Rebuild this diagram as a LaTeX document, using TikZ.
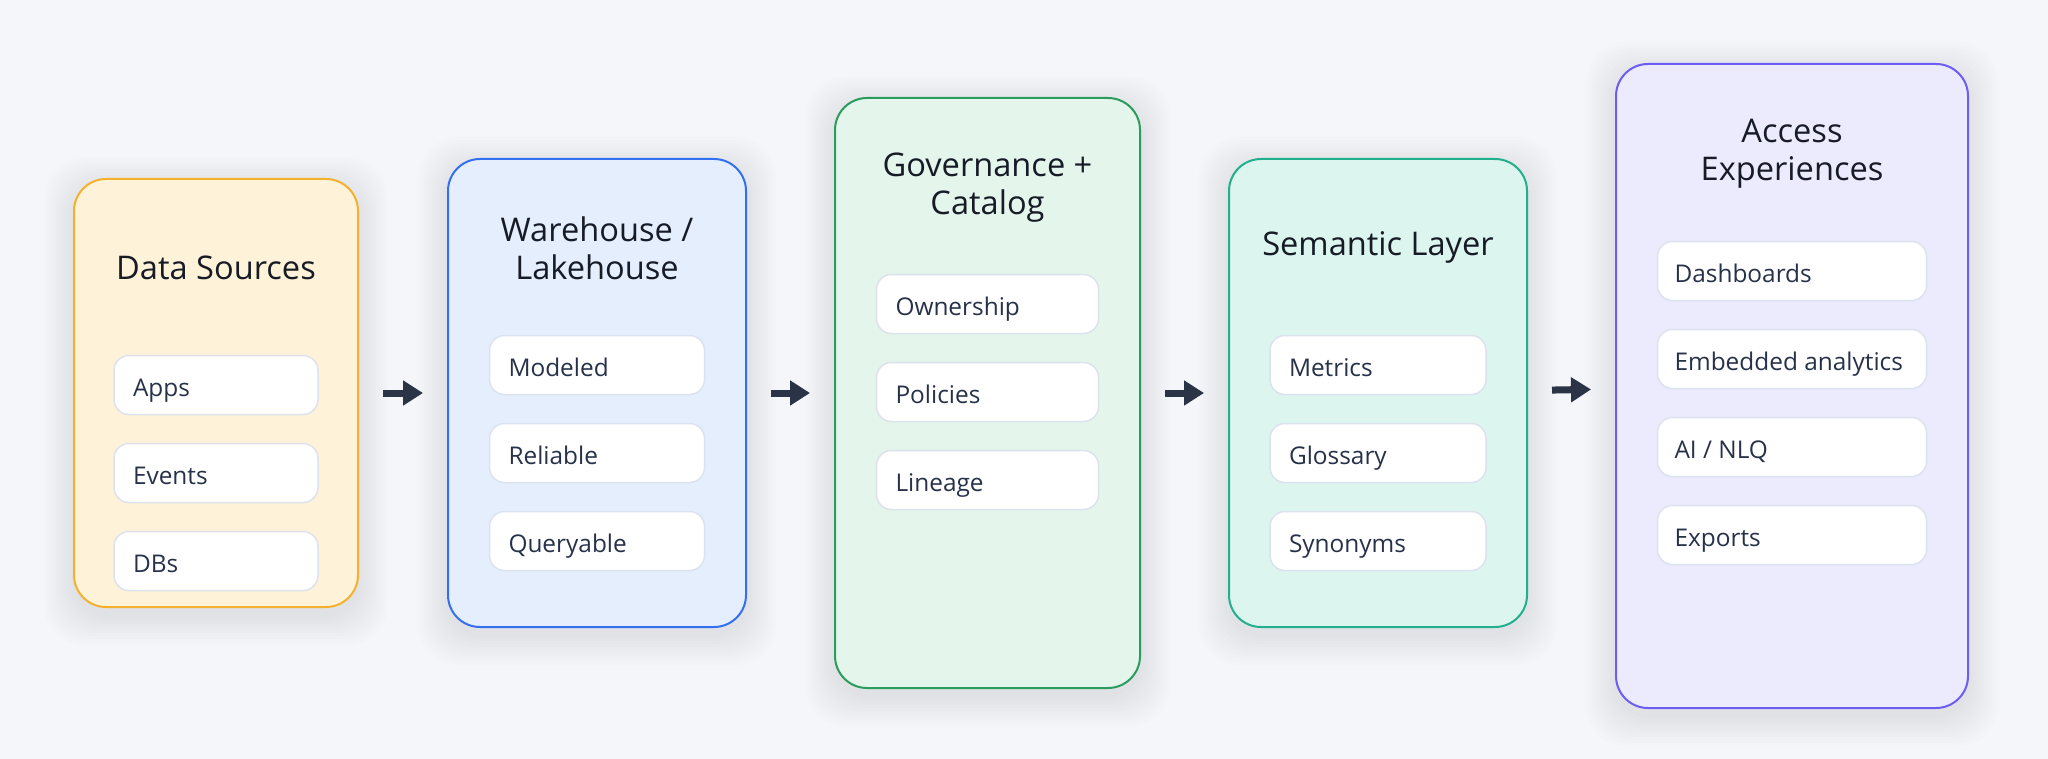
\documentclass[tikz,border=0pt]{standalone}
\usepackage{fontspec}
\setmainfont{Open Sans}
\usetikzlibrary{positioning,arrows.meta,backgrounds}

\definecolor{bgc}{HTML}{F4F6FA}
\definecolor{titlec}{HTML}{161B26}
\definecolor{itemtext}{HTML}{27324A}
\definecolor{itemline}{HTML}{DCE2EE}
\definecolor{arrowc}{HTML}{2B3446}
\definecolor{dsfill}{HTML}{FEF2D8}
\definecolor{dsline}{HTML}{F4B12E}
\definecolor{whfill}{HTML}{E5EEFD}
\definecolor{whline}{HTML}{3470EE}
\definecolor{gcfill}{HTML}{E4F5EB}
\definecolor{gcline}{HTML}{2A9D5C}
\definecolor{slfill}{HTML}{DCF5EF}
\definecolor{slline}{HTML}{22B08C}
\definecolor{aefill}{HTML}{ECEAFD}
\definecolor{aeline}{HTML}{6D5DF2}

\tikzset{
  panel/.style={draw, line width=1pt, rounded corners=16pt, outer sep=0pt},
  ptitle/.style={font=\fontsize{16.3}{19}\selectfont, text=titlec, align=center},
  item/.style={draw=itemline, fill=white, line width=0.75pt, rounded corners=7.5pt,
    minimum height=29.5pt, inner xsep=9.5pt, outer sep=0pt, align=flush left,
    text height=14.5pt, text depth=3pt,
    font=\fontsize{12.2}{14}\selectfont, text=itemtext},
  flow/.style={draw=arrowc, line width=3.5pt, -{Triangle[width=12pt,length=10pt]},
    shorten <=12.5pt, shorten >=12.5pt}
}

\begin{document}
\begin{tikzpicture}[x=0.5pt, y=-0.5pt]
\useasboundingbox (0,0) rectangle (2048,759);

\node [panel, draw=dsline, fill=dsfill, minimum width=142pt, minimum height=214pt] (ds) at (216,393) {};
\node [panel, draw=whline, fill=whfill, minimum width=149pt, minimum height=234pt] (wh) at (597,393) {};
\node [panel, draw=gcline, fill=gcfill, minimum width=152.5pt, minimum height=295pt] (gc) at (987.5,393) {};
\node [panel, draw=slline, fill=slfill, minimum width=149pt, minimum height=234pt] (sl) at (1378,393) {};
\node [panel, draw=aeline, fill=aefill, minimum width=176pt, minimum height=322pt] (ae) at (1792,386) {};

\node [ptitle] (dst) at ([yshift=-44.5pt]ds.north) {Data Sources};
\node [ptitle] (wht) at ([yshift=-44.5pt]wh.north) {Warehouse /\\Lakehouse};
\node [ptitle] (gct) at ([yshift=-45pt]gc.north) {Governance +\\Catalog};
\node [ptitle] (slt) at ([yshift=-44pt]sl.north) {Semantic Layer};
\node [ptitle] (aet) at ([yshift=-45pt]ae.north) {Access\\Experiences};

\node [item, text width=83pt] (ds1) at ([yshift=-103pt]ds.north) {Apps};
\node [item, text width=83pt, below=14.5pt of ds1] (ds2) {Events};
\node [item, text width=83pt, below=14.5pt of ds2] (ds3) {DBs};

\node [item, text width=88.5pt] (wh1) at ([yshift=-103pt]wh.north) {Modeled};
\node [item, text width=88.5pt, below=14.5pt of wh1] (wh2) {Reliable};
\node [item, text width=88.5pt, below=14.5pt of wh2] (wh3) {Queryable};

\node [item, text width=92pt] (gc1) at ([yshift=-103pt]gc.north) {Ownership};
\node [item, text width=92pt, below=14.5pt of gc1] (gc2) {Policies};
\node [item, text width=92pt, below=14.5pt of gc2] (gc3) {Lineage};

\node [item, text width=89pt] (sl1) at ([yshift=-103pt]sl.north) {Metrics};
\node [item, text width=89pt, below=14.5pt of sl1] (sl2) {Glossary};
\node [item, text width=89pt, below=14.5pt of sl2] (sl3) {Synonyms};

\node [item, inner xsep=8.5pt, text width=117.5pt] (ae1) at ([yshift=-103.5pt]ae.north) {Dashboards};
\node [item, inner xsep=8.5pt, text width=117.5pt, below=14.5pt of ae1] (ae2) {Embedded analytics};
\node [item, inner xsep=8.5pt, text width=117.5pt, below=14.5pt of ae2] (ae3) {AI / NLQ};
\node [item, inner xsep=8.5pt, text width=117.5pt, below=14.5pt of ae3] (ae4) {Exports};

\draw [flow] (ds) -- (wh);
\draw [flow] (wh) -- (gc);
\draw [flow] (gc) -- (sl);
\draw [flow] (sl) -- (ae);

\begin{pgfonlayer}{background}
\fill [bgc] (0,0) rectangle (2048,759);
\foreach \p in {ds,wh,gc,sl,ae}
  \foreach \i in {1,...,10}
    \fill [black, opacity=0.009, rounded corners=20pt] ([shift={(-\i*3,-\i*3+8)}]\p.north west) rectangle ([shift={(\i*3,\i*3+8)}]\p.south east);
\end{pgfonlayer}
\end{tikzpicture}
\end{document}
